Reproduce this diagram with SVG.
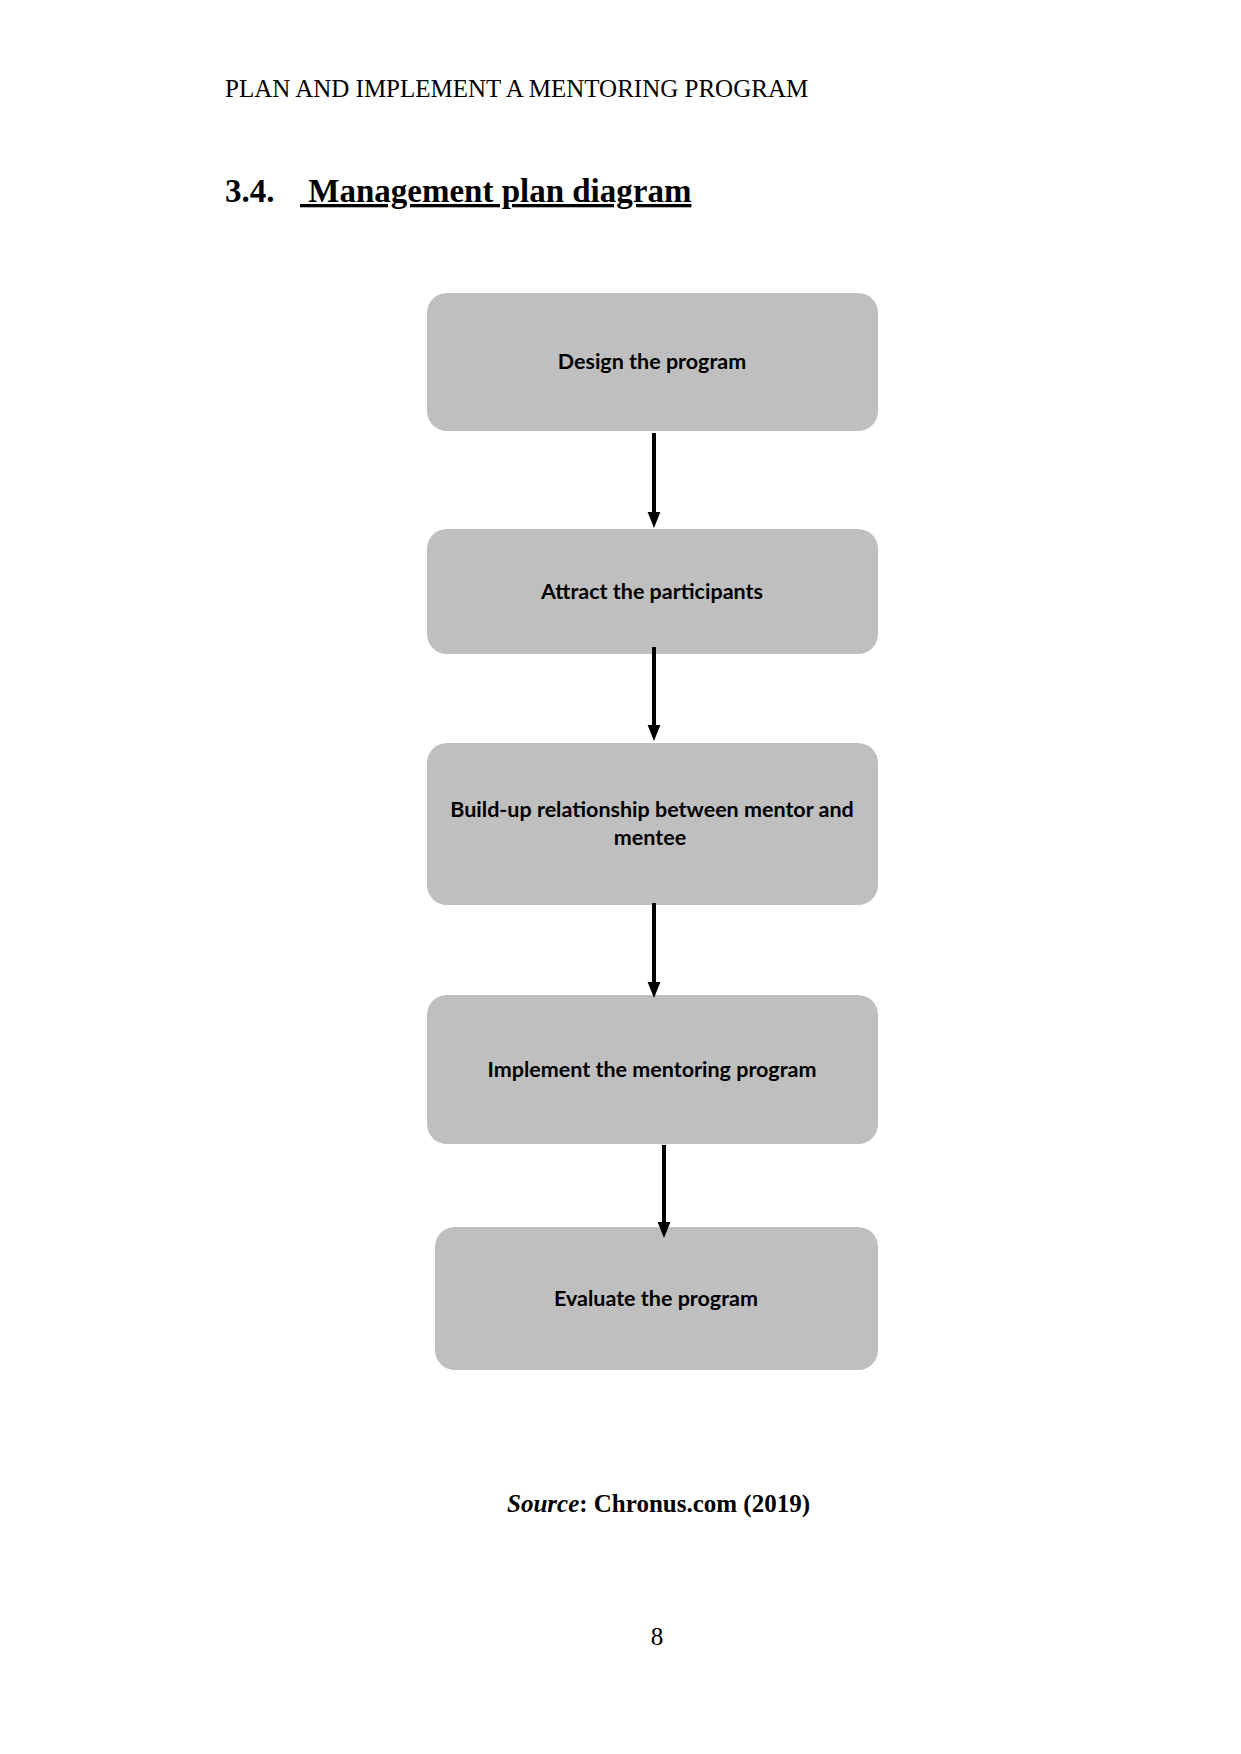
<svg xmlns="http://www.w3.org/2000/svg" width="1241" height="1754" viewBox="0 0 1241 1754">
<style>
.serif{font-family:"Liberation Serif","Times New Roman",serif;fill:#000}
.box{fill:#bfbfbf}
.lbl{font-family:Lato,"Liberation Sans",sans-serif;font-weight:bold;font-size:21.5px;fill:#000;text-anchor:middle}
.conn{stroke:#000;stroke-width:4;fill:none}
</style>
<defs>
<marker id="ah" markerWidth="4" markerHeight="4" refX="2" refY="2" orient="auto" markerUnits="strokeWidth" viewBox="0 0 4 4">
<path d="M0,0.4 L4,2 L0,3.6 Z" fill="#000"/>
</marker>
</defs>
<rect width="1241" height="1754" fill="#fff"/>
<text class="serif" x="225" y="97" font-size="25">PLAN AND IMPLEMENT A MENTORING PROGRAM</text>
<text class="serif" x="225" y="202" font-size="33" font-weight="bold">3.4.</text>
<text class="serif" x="300" y="202" font-size="33" font-weight="bold" text-decoration="underline" xml:space="preserve"> Management plan diagram</text>

<g id="n1"><rect class="box" x="427" y="293" width="451" height="138" rx="20"/><text class="lbl" x="652" y="369">Design the program</text></g>
<g id="n2"><rect class="box" x="427" y="529" width="451" height="125" rx="20"/><text class="lbl" x="652" y="599">Attract the participants</text></g>
<g id="n3"><rect class="box" x="427" y="743" width="451" height="162" rx="20"/><text class="lbl" x="652" y="817">Build-up relationship between mentor and</text><text class="lbl" x="650" y="845">mentee</text></g>
<g id="n4"><rect class="box" x="427" y="995" width="451" height="149" rx="20"/><text class="lbl" x="652" y="1077">Implement the mentoring program</text></g>
<g id="n5"><rect class="box" x="435" y="1227" width="443" height="143" rx="20"/><text class="lbl" x="656" y="1306">Evaluate the program</text></g>

<g id="connectors">
<line class="conn" x1="654" y1="433" x2="654" y2="520" marker-end="url(#ah)"/>
<line class="conn" x1="654" y1="647" x2="654" y2="733" marker-end="url(#ah)"/>
<line class="conn" x1="654" y1="903" x2="654" y2="990" marker-end="url(#ah)"/>
<line class="conn" x1="664" y1="1145" x2="664" y2="1230" marker-end="url(#ah)"/>
</g>

<text class="serif" x="507" y="1512" font-size="25" font-weight="bold"><tspan font-style="italic">Source</tspan>: Chronus.com (2019)</text>
<text class="serif" x="657" y="1645" font-size="25" text-anchor="middle">8</text>
</svg>
